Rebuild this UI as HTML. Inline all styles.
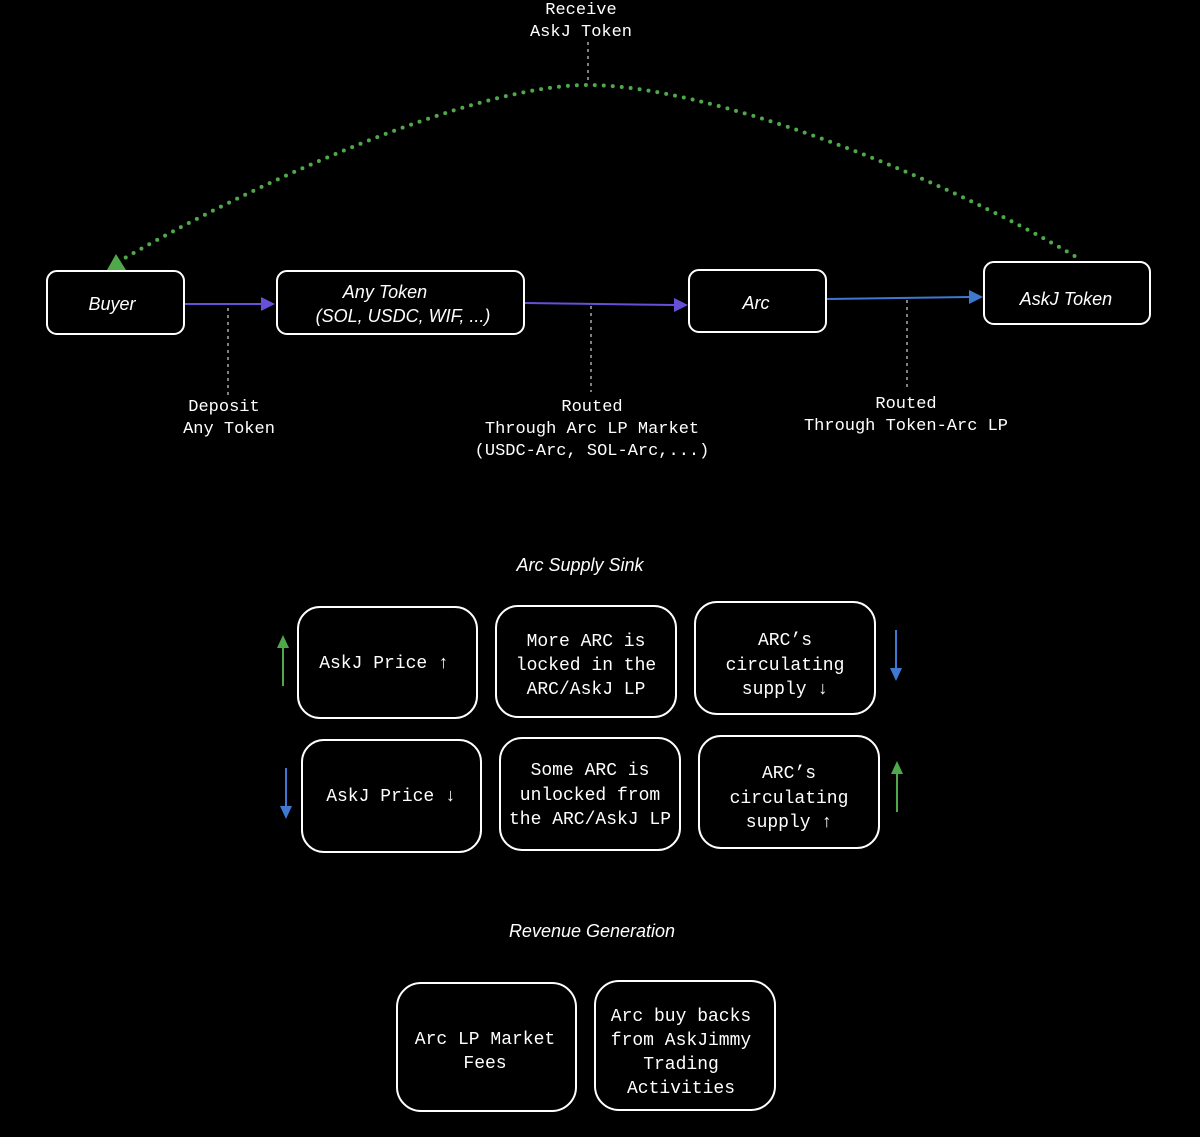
<!DOCTYPE html>
<html><head><meta charset="utf-8"><style>
html,body{margin:0;padding:0;background:#000;}
svg{display:block}
.m{font-family:"Liberation Mono",monospace;fill:#fff;font-size:17px;text-anchor:middle}
.b{font-family:"Liberation Mono",monospace;fill:#fff;font-size:18px;text-anchor:middle}
.h{font-family:"Liberation Sans",sans-serif;fill:#fff;font-size:18px;text-anchor:middle;font-style:italic}
.box{fill:#000;stroke:#fff;stroke-width:2}
</style></head><body>
<svg width="1200" height="1137" viewBox="0 0 1200 1137" xmlns="http://www.w3.org/2000/svg">
<path d="M118,262 C250,185 470,85 588,85 C705,85 930,170 1078,258" fill="none" stroke="#4fa84a" stroke-width="4" stroke-dasharray="0 9" stroke-linecap="round"/>
<polygon points="116,254 107,270 126,270" fill="#4fa84a"/>
<line x1="588" y1="42" x2="588" y2="84" stroke="#fff" stroke-width="1" stroke-dasharray="3 4"/>
<text class="m" x="581" y="14">Receive</text>
<text class="m" x="581" y="36">AskJ Token</text>

<rect class="box" x="47" y="271" width="137" height="63" rx="10"/>
<text class="h" x="112" y="310">Buyer</text>
<rect class="box" x="277" y="271" width="247" height="63" rx="10"/>
<text class="h" x="385" y="298">Any Token</text>
<text class="h" x="403" y="322">(SOL, USDC, WIF, ...)</text>
<rect class="box" x="689" y="270" width="137" height="62" rx="10"/>
<text class="h" x="756" y="309">Arc</text>
<rect class="box" x="984" y="262" width="166" height="62" rx="10"/>
<text class="h" x="1066" y="305">AskJ Token</text>

<line x1="185" y1="304" x2="262" y2="304" stroke="#6650d8" stroke-width="2"/>
<polygon points="275,304 261,297 261,311" fill="#6650d8"/>
<line x1="525" y1="303" x2="675" y2="305" stroke="#6650d8" stroke-width="2"/>
<polygon points="688,305 674,298 674,312" fill="#6650d8"/>
<line x1="827" y1="299" x2="970" y2="297" stroke="#3f78d0" stroke-width="2"/>
<polygon points="983,297 969,290 969,304" fill="#3f78d0"/>

<g stroke="#fff" stroke-width="1" stroke-dasharray="3 4">
<line x1="228" y1="308" x2="228" y2="395"/>
<line x1="591" y1="306" x2="591" y2="392"/>
<line x1="907" y1="300" x2="907" y2="388"/>
</g>
<text class="m" x="224" y="411">Deposit</text>
<text class="m" x="229" y="433">Any Token</text>
<text class="m" x="592" y="411">Routed</text>
<text class="m" x="592" y="433">Through Arc LP Market</text>
<text class="m" x="592" y="455">(USDC-Arc, SOL-Arc,...)</text>
<text class="m" x="906" y="408">Routed</text>
<text class="m" x="906" y="430">Through Token-Arc LP</text>

<text class="h" x="580" y="571">Arc Supply Sink</text>
<rect class="box" x="298" y="607" width="179" height="111" rx="22"/>
<text class="b" x="384" y="668">AskJ Price ↑</text>
<rect class="box" x="496" y="606" width="180" height="111" rx="22"/>
<text class="b" x="586" y="646">More ARC is</text>
<text class="b" x="586" y="670">locked in the</text>
<text class="b" x="586" y="694">ARC/AskJ LP</text>
<rect class="box" x="695" y="602" width="180" height="112" rx="22"/>
<text class="b" x="785" y="645">ARC’s</text>
<text class="b" x="785" y="670">circulating</text>
<text class="b" x="785" y="694">supply ↓</text>

<rect class="box" x="302" y="740" width="179" height="112" rx="22"/>
<text class="b" x="391" y="801">AskJ Price ↓</text>
<rect class="box" x="500" y="738" width="180" height="112" rx="22"/>
<text class="b" x="590" y="775">Some ARC is</text>
<text class="b" x="590" y="800">unlocked from</text>
<text class="b" x="590" y="824">the ARC/AskJ LP</text>
<rect class="box" x="699" y="736" width="180" height="112" rx="22"/>
<text class="b" x="789" y="778">ARC’s</text>
<text class="b" x="789" y="803">circulating</text>
<text class="b" x="789" y="827">supply ↑</text>

<line x1="283" y1="686" x2="283" y2="646" stroke="#4fa84a" stroke-width="2"/>
<polygon points="283,635 277,648 289,648" fill="#4fa84a"/>
<line x1="896" y1="630" x2="896" y2="670" stroke="#3f78d0" stroke-width="2"/>
<polygon points="896,681 890,668 902,668" fill="#3f78d0"/>
<line x1="286" y1="768" x2="286" y2="808" stroke="#3f78d0" stroke-width="2"/>
<polygon points="286,819 280,806 292,806" fill="#3f78d0"/>
<line x1="897" y1="812" x2="897" y2="772" stroke="#4fa84a" stroke-width="2"/>
<polygon points="897,761 891,774 903,774" fill="#4fa84a"/>

<text class="h" x="592" y="937">Revenue Generation</text>
<rect class="box" x="397" y="983" width="179" height="128" rx="24"/>
<text class="b" x="485" y="1044">Arc LP Market</text>
<text class="b" x="485" y="1068">Fees</text>
<rect class="box" x="595" y="981" width="180" height="129" rx="24"/>
<text class="b" x="681" y="1021">Arc buy backs</text>
<text class="b" x="681" y="1045">from AskJimmy</text>
<text class="b" x="681" y="1069">Trading</text>
<text class="b" x="681" y="1093">Activities</text>
</svg>
</body></html>
